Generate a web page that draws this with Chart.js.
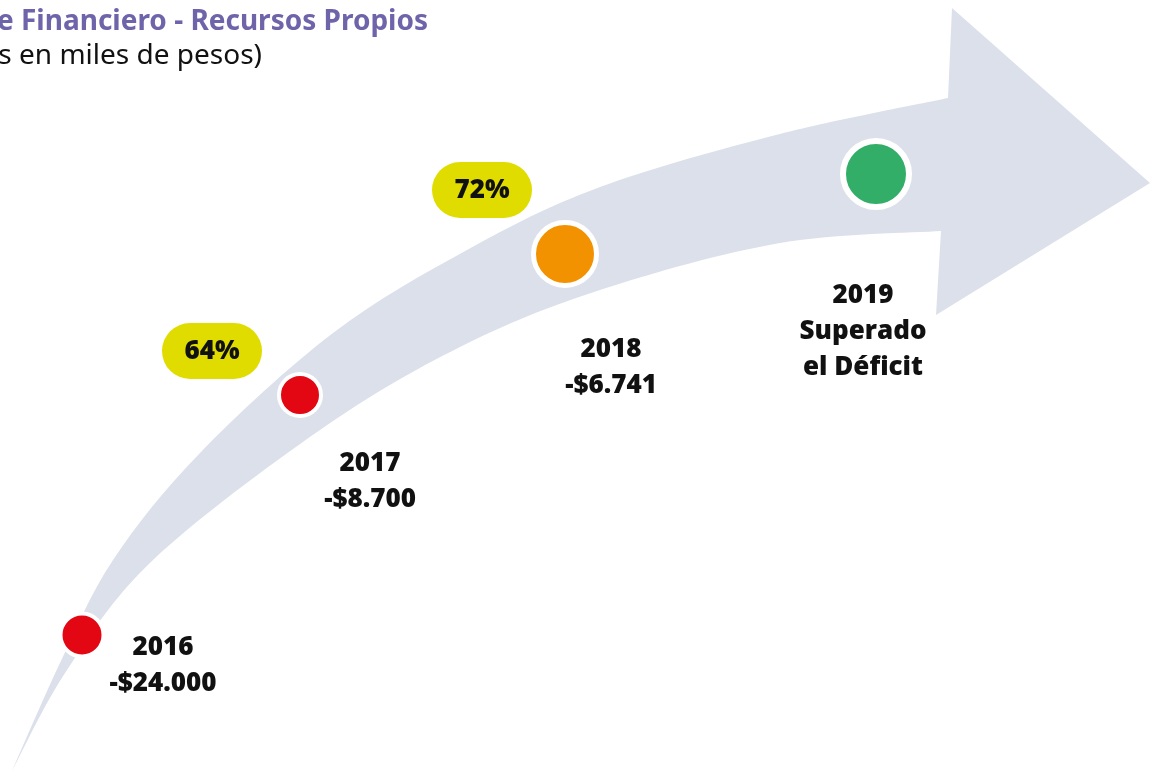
<!DOCTYPE html>
<html>
<head>
<meta charset="utf-8">
<script src="https://cdn.jsdelivr.net/npm/chart.js@4.4.1/dist/chart.umd.min.js"></script>
<style>
  html, body { margin: 0; padding: 0; background: #ffffff; }
  #wrap { width: 1150px; height: 772px; position: relative; }
</style>
</head>
<body>
<div id="wrap"><canvas id="c" width="1150" height="772"></canvas></div>
<script>
// ---- DATA ----
const years = ['2016', '2017', '2018', '2019'];
const deficits = [-24000, -8700, -6741, null];     // miles de pesos
const percentages = [null, 64, 72, null];           // % shown in pills
const finalLabel = ['Superado', 'el Déficit'];
const titleText = 'e Financiero - Recursos Propios';
const subtitleText = 's en miles de pesos)';

// ---- LAYOUT / STYLE (not data) ----
const markerX = [82, 300, 565, 876];
const markerY = [635, 395, 254, 174];
const markerRadius = [21.5, 21, 31.5, 33];
const markerBorder = [4, 4, 5, 6];
const markerColors = ['#E30613', '#E30613', '#F39200', '#32AE68'];
const labelX = [163, 370, 611, 863];
const labelY = [648, 464, 350, 296];
const pillX = [null, 212, 482, null];
const pillY = [null, 351, 190, null];
const bandColor = '#DCE0EA';
const upperEdge = [[12,771],[60,663],[113,560],[200,453],[333,333],[467,250],[600,187],[780,134],[948,98]];
const lowerEdge = [[941,231],[780,243],[600,290],[460,347],[320,430],[153,560],[67,670],[12,771]];
const arrowHead = [[952,8],[1150,183],[936,315],[941,231]];

function fmtMoney(v) {
  const s = Math.abs(v).toString().replace(/\B(?=(\d{3})+(?!\d))/g, '.');
  return (v < 0 ? '-$' : '$') + s;
}

function spline(ctx, pts, sc, moveFirst) {
  const P = pts.map(p => [sc.x.getPixelForValue(p[0]), sc.y.getPixelForValue(p[1])]);
  if (moveFirst) ctx.moveTo(P[0][0], P[0][1]); else ctx.lineTo(P[0][0], P[0][1]);
  for (let i = 0; i < P.length - 1; i++) {
    const p0 = P[Math.max(0, i - 1)], p1 = P[i], p2 = P[i + 1], p3 = P[Math.min(P.length - 1, i + 2)];
    const t = 6;
    ctx.bezierCurveTo(p1[0] + (p2[0] - p0[0]) / t, p1[1] + (p2[1] - p0[1]) / t,
                      p2[0] - (p3[0] - p1[0]) / t, p2[1] - (p3[1] - p1[1]) / t,
                      p2[0], p2[1]);
  }
}

const arrowPlugin = {
  id: 'arrow',
  beforeDatasetsDraw(chart) {
    const ctx = chart.ctx, sc = { x: chart.scales.x, y: chart.scales.y };
    ctx.save();
    ctx.fillStyle = bandColor;
    ctx.beginPath();
    spline(ctx, upperEdge, sc, true);
    arrowHead.forEach(p => ctx.lineTo(sc.x.getPixelForValue(p[0]), sc.y.getPixelForValue(p[1])));
    spline(ctx, lowerEdge, sc, false);
    ctx.closePath();
    ctx.fill();
    ctx.restore();
  },
  afterDatasetsDraw(chart) {
    const ctx = chart.ctx, sx = chart.scales.x, sy = chart.scales.y;
    ctx.save();
    // title
    ctx.textBaseline = 'alphabetic';
    ctx.textAlign = 'right';
    ctx.fillStyle = '#6E64AA';
    ctx.font = 'bold 28px "Noto Sans"';
    ctx.fillText(titleText, 428, 30);
    ctx.fillStyle = '#111111';
    ctx.font = '28px "Noto Sans"';
    ctx.fillText(subtitleText, 262, 64);

    // pills
    ctx.textAlign = 'center';
    ctx.textBaseline = 'middle';
    percentages.forEach((p, i) => {
      if (p == null) return;
      const cx = sx.getPixelForValue(pillX[i]), cy = sy.getPixelForValue(pillY[i]);
      const w = 100, h = 56, r = 28;
      ctx.fillStyle = '#E1DC00';
      ctx.beginPath();
      ctx.roundRect(cx - w / 2, cy - h / 2, w, h, r);
      ctx.fill();
      ctx.fillStyle = '#111111';
      ctx.font = '800 26px "Open Sans"';
      ctx.fillText(p + '%', cx, cy + 1);
    });

    // year labels
    ctx.fillStyle = '#111111';
    ctx.font = '800 26px "Open Sans"';
    years.forEach((y, i) => {
      const cx = sx.getPixelForValue(labelX[i]), cy = sy.getPixelForValue(labelY[i]);
      const lines = [y].concat(deficits[i] != null ? [fmtMoney(deficits[i])] : finalLabel);
      lines.forEach((t, k) => ctx.fillText(t, cx, cy + k * 36));
    });
    ctx.restore();
  }
};

new Chart(document.getElementById('c'), {
  type: 'scatter',
  data: {
    datasets: [{
      data: years.map((y, i) => ({ x: markerX[i], y: markerY[i] })),
      pointRadius: markerRadius,
      pointHoverRadius: markerRadius,
      pointBackgroundColor: markerColors,
      pointBorderColor: '#ffffff',
      pointBorderWidth: markerBorder,
      clip: false
    }]
  },
  options: {
    responsive: false,
    animation: false,
    events: [],
    layout: { padding: 0, autoPadding: false },
    plugins: { legend: { display: false }, tooltip: { enabled: false }, title: { display: false } },
    scales: {
      x: { type: 'linear', min: 0, max: 1150, display: false },
      y: { type: 'linear', min: 0, max: 772, reverse: true, display: false }
    }
  },
  plugins: [arrowPlugin]
});
</script>
</body>
</html>
